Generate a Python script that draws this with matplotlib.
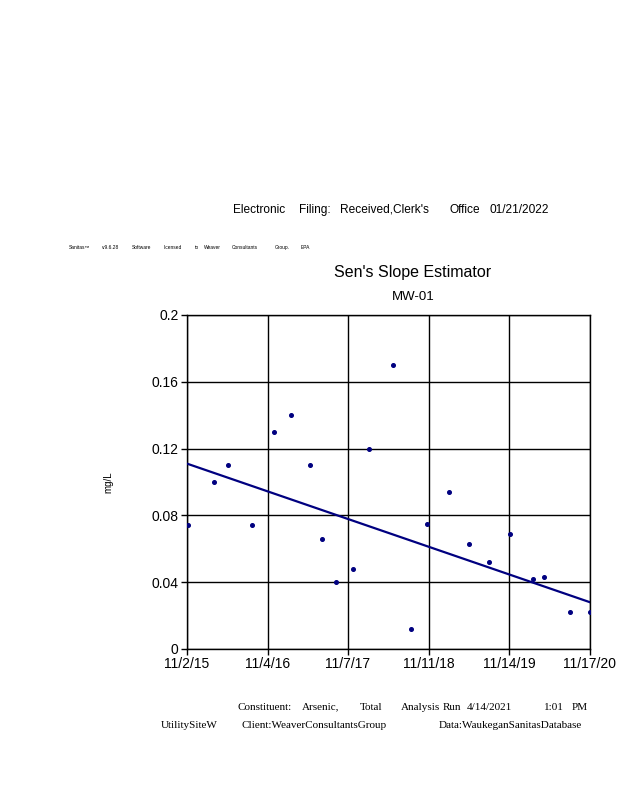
import matplotlib
matplotlib.use("Agg")
import matplotlib.pyplot as plt
import matplotlib.dates as mdates
import numpy as np
from datetime import datetime

# sample dates and arsenic concentrations (mg/L)
dates = ["2015-11-05", "2016-03-04", "2016-05-06", "2016-08-26", "2016-12-05",
         "2017-02-21", "2017-05-17", "2017-07-09", "2017-09-13", "2017-11-28",
         "2018-02-09", "2018-05-30", "2018-08-20", "2018-11-05", "2019-02-11",
         "2019-05-15", "2019-08-13", "2019-11-18", "2020-03-02", "2020-04-20",
         "2020-08-18", "2020-11-17"]
values = [0.074, 0.1, 0.11, 0.074, 0.13, 0.14, 0.11, 0.066, 0.04, 0.048,
          0.12, 0.17, 0.012, 0.075, 0.094, 0.063, 0.052, 0.069, 0.042, 0.043,
          0.022, 0.022]

# Sen's slope line endpoints
trend_dates = ["2015-11-02", "2020-11-17"]
trend_values = [0.111, 0.028]

tick_dates = ["2015-11-02", "2016-11-04", "2017-11-07", "2018-11-11", "2019-11-14", "2020-11-17"]
tick_labels = ["11/2/15", "11/4/16", "11/7/17", "11/11/18", "11/14/19", "11/17/20"]
y_ticks = [0, 0.04, 0.08, 0.12, 0.16, 0.2]
y_labels = ["0", "0.04", "0.08", "0.12", "0.16", "0.2"]

to_dt = lambda s: datetime.strptime(s, "%Y-%m-%d")
x = mdates.date2num([to_dt(d) for d in dates])
tx = mdates.date2num([to_dt(d) for d in trend_dates])
ticks = mdates.date2num([to_dt(d) for d in tick_dates])

W, H = 618, 800
fig = plt.figure(figsize=(6.18, 8), dpi=100)
ax = fig.add_axes([187 / W, 1 - 649 / H, 403 / W, 334 / H])

navy = "#000080"
ax.plot(tx, trend_values, color=navy, lw=1.6, zorder=3)
ax.plot(x, values, "o", color=navy, ms=2.6, zorder=4)

ax.set_xlim(ticks[0], ticks[-1])
ax.set_ylim(0, 0.2)
ax.set_xticks(ticks)
ax.set_xticklabels(tick_labels, family="Liberation Sans", fontsize=10)
ax.set_yticks(y_ticks)
ax.set_yticklabels(y_labels, family="Liberation Sans", fontsize=10)
ax.tick_params(length=4, width=1, color="black", pad=2)
ax.grid(True, color="black", lw=1)
for s in ax.spines.values():
    s.set_linewidth(1)
ax.set_ylabel("mg/L", family="Liberation Sans", fontsize=7, labelpad=0)
ax.yaxis.set_label_coords((113 - 187) / 403, 0.5)

def put(words, xs, y, size, family, **kw):
    for w, px in zip(words, xs):
        fig.text(px / W, 1 - y / H, w, fontsize=size, family=family, va="center", ha="left", **kw)

put(["Electronic", "Filing:", "Received,Clerk's", "Office", "01/21/2022"],
    [233, 299, 340, 449, 490], 210, 8.6, "Liberation Sans")
put(["Sanitas\u2122", "v.9.6.28", "Software", "licensed", "to", "Weaver", "Consultants", "Group.", "EPA"],
    [69, 102, 132, 164, 195, 204, 232, 275, 301], 247, 3.5, "Liberation Sans")

fig.text(413 / W, 1 - 272 / H, "Sen's Slope Estimator", fontsize=11.5, family="Liberation Sans",
         ha="center", va="center")
fig.text(413 / W, 1 - 297 / H, "MW-01", fontsize=9.5, family="Liberation Sans", ha="center", va="center")

put(["Constituent:", "Arsenic,", "Total", "Analysis", "Run", "4/14/2021", "1:01", "PM"],
    [238, 302, 360, 401, 443, 467, 544, 572], 707, 8, "Liberation Serif")
put(["UtilitySiteW", "Client:WeaverConsultantsGroup", "Data:WaukeganSanitasDatabase"],
    [161, 242, 439], 726, 8, "Liberation Serif")

fig.savefig("out.png", dpi=100)
